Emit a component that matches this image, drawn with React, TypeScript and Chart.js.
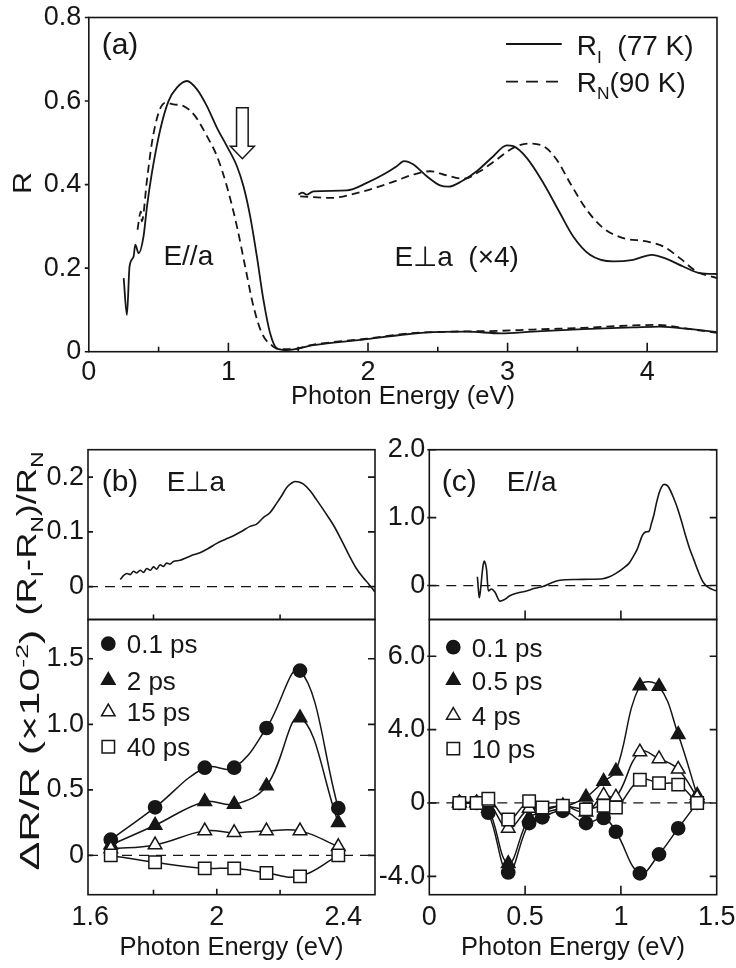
import React, { useEffect, useRef } from 'react';
import { Chart, registerables } from 'chart.js';
Chart.register(...registerables);

const W = 736;
const H = 968;
const FONT = "'Liberation Sans', Arial, Helvetica, sans-serif";
const INK = '#161616';

// ---------------- Panel (a) ----------------
const aETicks = [0, 1, 2, 3, 4];
const aELabels = ['0', '1', '2', '3', '4'];
const aRTicks = [0, 0.2, 0.4, 0.6, 0.8];
const aRLabels = ['0', '0.2', '0.4', '0.6', '0.8'];
const aMinorE = [0.5, 1, 1.5, 2, 2.5, 3, 3.5, 4];

// R_I (77 K), E//a
const aParIE = [0.25, 0.273, 0.292, 0.321, 0.333, 0.357, 0.392, 0.417, 0.452, 0.512, 0.571, 0.631, 0.703, 0.775, 0.846, 0.918, 0.989, 1.061, 1.108, 1.156, 1.204, 1.251, 1.299, 1.347, 1.42, 1.61, 1.99, 2.23, 2.47, 2.71, 2.95, 3.18, 3.54, 3.9, 4.09, 4.31, 4.5];
const aParIR = [0.176, 0.088, 0.204, 0.228, 0.256, 0.236, 0.276, 0.348, 0.428, 0.532, 0.6, 0.632, 0.648, 0.628, 0.588, 0.536, 0.492, 0.444, 0.396, 0.324, 0.228, 0.124, 0.044, 0.008, 0.004, 0.016, 0.03, 0.04, 0.047, 0.048, 0.044, 0.048, 0.054, 0.058, 0.06, 0.054, 0.047];
// R_N (90 K), E//a
const aParNE = [0.349, 0.373, 0.38, 0.417, 0.452, 0.5, 0.548, 0.607, 0.679, 0.762, 0.846, 0.918, 0.989, 1.061, 1.12, 1.18, 1.24, 1.323, 1.37, 1.45, 1.61, 1.99, 2.3, 2.6, 2.95, 3.18, 3.54, 3.9, 4.07, 4.31, 4.5];
const aParNR = [0.292, 0.336, 0.312, 0.412, 0.5, 0.572, 0.596, 0.592, 0.588, 0.564, 0.516, 0.468, 0.396, 0.3, 0.204, 0.108, 0.044, 0.012, 0.006, 0.006, 0.017, 0.031, 0.044, 0.048, 0.05, 0.053, 0.057, 0.063, 0.064, 0.054, 0.045];
// R_I (77 K), E perp a (x4)
const aPerpIE = [1.502, 1.53, 1.56, 1.609, 1.848, 1.991, 2.11, 2.206, 2.258, 2.325, 2.421, 2.516, 2.576, 2.671, 2.779, 2.898, 2.994, 3.041, 3.137, 3.256, 3.375, 3.47, 3.59, 3.757, 3.9, 4.032, 4.139, 4.258, 4.377, 4.5];
const aPerpIR = [0.376, 0.381, 0.376, 0.384, 0.386, 0.404, 0.424, 0.444, 0.456, 0.448, 0.42, 0.398, 0.395, 0.408, 0.432, 0.468, 0.494, 0.492, 0.464, 0.404, 0.332, 0.276, 0.232, 0.216, 0.22, 0.232, 0.222, 0.204, 0.188, 0.186];
// R_N (90 K), E perp a (x4)
const aPerpNE = [1.514, 1.729, 1.967, 2.158, 2.325, 2.445, 2.564, 2.683, 2.802, 2.922, 3.041, 3.148, 3.256, 3.351, 3.447, 3.566, 3.685, 3.828, 3.996, 4.115, 4.234, 4.354, 4.5];
const aPerpNR = [0.372, 0.368, 0.384, 0.404, 0.424, 0.432, 0.422, 0.414, 0.432, 0.46, 0.488, 0.498, 0.492, 0.46, 0.404, 0.34, 0.296, 0.272, 0.264, 0.252, 0.224, 0.192, 0.176];
// hollow arrow: energy, and R at top / head base / tip
const aArrowE = [1.1];
const aArrowR = [0.584, 0.492, 0.462];
const aLegend = ['(77 K)', '(90 K)'];

// ---------------- Panel (b) ----------------
const bXTicks = [1.6, 2, 2.4];
const bXLabels = ['1.6', '2', '2.4'];
const bTopYTicks = [0, 0.1, 0.2];
const bTopYLabels = ['0', '0.1', '0.2'];
const bBotYTicks = [0, 0.5, 1, 1.5];
const bBotYLabels = ['0', '0.5', '1.0', '1.5'];
const bZeroE = [1.593, 2.5];
const zeroLevel = [0, 0];

const bDiffE = [1.695, 1.705, 1.716, 1.726, 1.737, 1.747, 1.758, 1.768, 1.779, 1.79, 1.8, 1.81, 1.821, 1.831, 1.842, 1.852, 1.863, 1.884, 1.905, 1.926, 1.947, 1.974, 2.0, 2.026, 2.053, 2.079, 2.105, 2.126, 2.147, 2.168, 2.189, 2.205, 2.221, 2.234, 2.247, 2.26, 2.274, 2.295, 2.316, 2.342, 2.368, 2.394, 2.42, 2.44, 2.463, 2.48, 2.5];
const bDiffV = [0.013, 0.02, 0.024, 0.022, 0.028, 0.025, 0.03, 0.026, 0.033, 0.03, 0.036, 0.032, 0.04, 0.037, 0.043, 0.041, 0.046, 0.048, 0.053, 0.058, 0.062, 0.07, 0.079, 0.086, 0.093, 0.101, 0.11, 0.114, 0.126, 0.135, 0.152, 0.166, 0.181, 0.188, 0.192, 0.191, 0.187, 0.175, 0.158, 0.136, 0.113, 0.085, 0.055, 0.034, 0.016, 0.005, -0.01];

const bProbeE = [1.665, 1.805, 1.962, 2.055, 2.157, 2.263, 2.384];
const bDelay01 = [0.12, 0.367, 0.669, 0.669, 0.972, 1.41, 0.361];
const bDelay2 = [0.08, 0.23, 0.41, 0.39, 0.53, 1.05, 0.25];
const bDelay15 = [0.05, 0.08, 0.187, 0.174, 0.187, 0.187, 0.067];
const bDelay40 = [0, -0.053, -0.099, -0.099, -0.134, -0.16, 0];
const bLegend = ['0.1 ps', '2 ps', '15 ps', '40 ps'];

// ---------------- Panel (c) ----------------
const cXTicks = [0, 0.5, 1, 1.5];
const cXLabels = ['0', '0.5', '1', '1.5'];
const cTopYTicks = [0, 1, 2];
const cTopYLabels = ['0', '1.0', '2.0'];
const cBotYTicks = [-4, 0, 4, 8];
const cBotYLabels = ['-4.0', '0', '4.0', '6.0'];
const cZeroE = [0, 1.5];

const cDiffE = [0.251, 0.256, 0.261, 0.268, 0.274, 0.281, 0.287, 0.293, 0.299, 0.308, 0.325, 0.343, 0.369, 0.39, 0.42, 0.46, 0.507, 0.55, 0.593, 0.63, 0.663, 0.71, 0.766, 0.83, 0.905, 0.94, 0.974, 1.01, 1.043, 1.065, 1.086, 1.1, 1.112, 1.13, 1.147, 1.16, 1.173, 1.186, 1.199, 1.212, 1.225, 1.238, 1.251, 1.272, 1.294, 1.316, 1.337, 1.358, 1.38, 1.402, 1.424, 1.44, 1.458, 1.48, 1.5];
const cDiffV = [0.13, -0.05, -0.18, -0.05, 0.13, 0.3, 0.36, 0.32, 0.23, -0.08, -0.05, -0.1, -0.23, -0.21, -0.15, -0.11, -0.08, -0.04, -0.015, 0.03, 0.066, 0.085, 0.09, 0.092, 0.1, 0.13, 0.18, 0.25, 0.33, 0.43, 0.54, 0.65, 0.74, 0.79, 0.8, 0.92, 1.05, 1.22, 1.36, 1.45, 1.49, 1.48, 1.44, 1.31, 1.15, 0.95, 0.74, 0.55, 0.385, 0.22, 0.077, 0.01, -0.03, -0.06, -0.08];

const cProbeE = [0.157, 0.247, 0.308, 0.412, 0.521, 0.59, 0.697, 0.818, 0.91, 0.974, 1.099, 1.199, 1.299, 1.398];
const cDelay01 = [0, 0, -0.53, -3.79, -1.1, -0.78, -0.43, -1.1, -0.82, -1.57, -3.84, -2.8, -1.38, 0];
const cDelay05 = [0, 0, -0.3, -3.3, -0.8, -0.55, -0.25, 0.32, 1.18, 1.74, 6.39, 6.35, 3.73, 0.42];
const cDelay4 = [0, 0, 0, -1.38, -0.3, -0.4, -0.15, -0.5, 0.42, 0.32, 2.78, 2.41, 1.84, 0.3];
const cDelay10 = [0, 0, 0.23, -0.9, 0.1, -0.25, -0.15, -0.35, -0.15, -0.25, 1.27, 1.08, 1.0, 0];
const cLegend = ['0.1 ps', '0.5 ps', '4 ps', '10 ps'];

// ---------------- helpers ----------------
const pts = (xs: number[], ys: number[]) => xs.map((x, i) => ({ x, y: ys[i] }));

type Run = [string, number]; // 0 normal, 1 subscript, -1 superscript

function runsWidth(ctx: CanvasRenderingContext2D, runs: Run[], size: number) {
  let w = 0;
  for (const [t, k] of runs) {
    ctx.font = `${k === 0 ? size : size * 0.62}px ${FONT}`;
    w += ctx.measureText(t).width;
  }
  return w;
}

function drawRuns(ctx: CanvasRenderingContext2D, runs: Run[], x: number, baseY: number, size: number) {
  let cx = x;
  ctx.textAlign = 'left';
  ctx.textBaseline = 'alphabetic';
  ctx.fillStyle = INK;
  for (const [t, k] of runs) {
    const s = k === 0 ? size : size * 0.62;
    ctx.font = `${s}px ${FONT}`;
    const dy = k === 1 ? size * 0.27 : k === -1 ? -size * 0.4 : 0;
    ctx.fillText(t, cx, baseY + dy);
    cx += ctx.measureText(t).width;
  }
}

function drawRotTitle(ctx: CanvasRenderingContext2D, runs: Run[], cx: number, cy: number, size: number, length: number) {
  const w = runsWidth(ctx, runs, size);
  ctx.save();
  ctx.translate(cx, cy);
  ctx.rotate(-Math.PI / 2);
  ctx.scale(length / w, 1);
  drawRuns(ctx, runs, -w / 2, 0.716 * size / 2, size);
  ctx.restore();
}

function drawMarker(ctx: CanvasRenderingContext2D, style: string, x: number, y: number, r: number, filled: boolean) {
  ctx.beginPath();
  if (style === 'circle') {
    ctx.arc(x, y, r, 0, Math.PI * 2);
  } else if (style === 'triangle') {
    for (let i = 0; i < 3; i++) {
      const a = (i * 2 * Math.PI) / 3;
      const px = x + Math.sin(a) * r;
      const py = y - Math.cos(a) * r;
      if (i === 0) ctx.moveTo(px, py); else ctx.lineTo(px, py);
    }
    ctx.closePath();
  } else {
    const s = r * Math.SQRT1_2;
    ctx.rect(x - s, y - s, 2 * s, 2 * s);
  }
  ctx.fillStyle = filled ? INK : '#fff';
  ctx.fill();
  ctx.lineWidth = 1.5;
  ctx.strokeStyle = INK;
  ctx.stroke();
}

type TickSpec = {
  left?: number[]; lIn?: number; lOut?: number;
  right?: number[]; rIn?: number;
  bottom?: [number, number][];
};

function frameAndTicks(chart: any, t: TickSpec) {
  const { ctx, chartArea: a } = chart;
  const xs = chart.scales.x;
  const ys = chart.scales.y;
  ctx.save();
  ctx.strokeStyle = INK;
  ctx.lineWidth = 1.6;
  ctx.strokeRect(a.left, a.top, a.right - a.left, a.bottom - a.top);
  ctx.beginPath();
  for (const v of t.left || []) {
    const p = ys.getPixelForValue(v);
    ctx.moveTo(a.left - (t.lOut || 0), p);
    ctx.lineTo(a.left + (t.lIn || 0), p);
  }
  for (const v of t.right || []) {
    const p = ys.getPixelForValue(v);
    ctx.moveTo(a.right, p);
    ctx.lineTo(a.right - (t.rIn || 0), p);
  }
  for (const [v, len] of t.bottom || []) {
    const p = xs.getPixelForValue(v);
    ctx.moveTo(p, a.bottom);
    ctx.lineTo(p, a.bottom - len);
  }
  ctx.stroke();
  ctx.restore();
}

type Spec = {
  box: { l: number; t: number; r: number; b: number };
  xMin: number; xMax: number; xTicks: number[]; xLabels: string[] | null; xH?: number; xPad?: number;
  yMin: number; yMax: number; yTicks: number[]; yLabels: string[]; yPad: number;
  datasets: any[];
  deco: (chart: any) => void;
};

function build(s: Spec): any {
  const showX = !!s.xLabels;
  const xH = showX ? (s.xH as number) : 0;
  const tickFont = { family: FONT, size: 27 };
  return {
    type: 'line',
    data: { datasets: s.datasets },
    options: {
      responsive: false,
      animation: false,
      events: [],
      layout: { autoPadding: false, padding: { left: 0, top: s.box.t, right: W - s.box.r, bottom: H - s.box.b - xH } },
      plugins: { legend: { display: false }, tooltip: { enabled: false }, title: { display: false } },
      scales: {
        x: {
          type: 'linear', display: showX, min: s.xMin, max: s.xMax, bounds: 'data',
          afterBuildTicks: (sc: any) => { sc.ticks = s.xTicks.map((v) => ({ value: v })); },
          afterFit: (sc: any) => { sc.height = xH; sc.paddingLeft = 0; sc.paddingRight = 0; },
          ticks: {
            callback: (_v: any, i: number) => (s.xLabels ? s.xLabels[i] : ''),
            font: tickFont, color: INK, padding: s.xPad ?? 6, maxRotation: 0, minRotation: 0, autoSkip: false,
          },
          grid: { display: false, drawTicks: false },
          border: { display: false },
          title: { display: showX, text: 'Photon Energy (eV)', font: { family: FONT, size: 25.5 }, color: INK, padding: 0 },
        },
        y: {
          type: 'linear', min: s.yMin, max: s.yMax, bounds: 'data',
          afterBuildTicks: (sc: any) => { sc.ticks = s.yTicks.map((v) => ({ value: v })); },
          afterFit: (sc: any) => { sc.width = s.box.l; sc.paddingTop = 0; sc.paddingBottom = 0; },
          ticks: {
            callback: (_v: any, i: number) => s.yLabels[i],
            font: tickFont, color: INK, padding: s.yPad, autoSkip: false,
          },
          grid: { display: false, drawTicks: false },
          border: { display: false },
        },
      },
    },
    plugins: [{ id: 'deco', afterDraw: (chart: any) => s.deco(chart) }],
  };
}

const curve = (xs: number[], ys: number[], dashed: boolean, width = 1.8) => ({
  data: pts(xs, ys),
  borderColor: INK,
  borderWidth: width,
  borderDash: dashed ? [8, 5] : [],
  pointRadius: 0,
  cubicInterpolationMode: 'monotone',
  fill: false,
  order: 5,
});

const zeroLine = (xs: number[]) => ({
  data: pts(xs, zeroLevel),
  borderColor: INK,
  borderWidth: 1.3,
  borderDash: [10, 7],
  pointRadius: 0,
  tension: 0,
  fill: false,
  order: 10,
});

const markerSeries = (xs: number[], ys: number[], style: string, filled: boolean, r: number, order: number) => ({
  data: pts(xs, ys),
  borderColor: INK,
  borderWidth: 1.5,
  tension: 0.4,
  pointStyle: style,
  pointRadius: r,
  pointBorderWidth: 1.5,
  pointBorderColor: INK,
  pointBackgroundColor: filled ? INK : '#ffffff',
  fill: false,
  order,
});

const MARKERS: [string, boolean, number][] = [
  ['circle', true, 6.6],
  ['triangle', true, 7.8],
  ['triangle', false, 7.8],
  ['rect', false, 8.8],
];

// ---------------- configs ----------------
const buildA = () =>
  build({
    box: { l: 88.8, t: 17.5, r: 717, b: 351.7 },
    xMin: 0, xMax: 4.5, xTicks: aETicks, xLabels: aELabels, xH: 61, xPad: 5,
    yMin: 0, yMax: 0.8, yTicks: aRTicks, yLabels: aRLabels, yPad: 7.5,
    datasets: [
      curve(aParIE, aParIR, false),
      curve(aParNE, aParNR, true),
      curve(aPerpIE, aPerpIR, false),
      curve(aPerpNE, aPerpNR, true),
    ],
    deco: (chart: any) => {
      const { ctx } = chart;
      const xs = chart.scales.x;
      const ys = chart.scales.y;
      frameAndTicks(chart, {
        left: aRTicks, lOut: 4, lIn: 0,
        bottom: aMinorE.map((v) => [v, Number.isInteger(v) ? 9 : 5] as [number, number]),
      });
      ctx.save();
      // arrow
      const xp = xs.getPixelForValue(aArrowE[0]);
      const yt = ys.getPixelForValue(aArrowR[0]);
      const yb = ys.getPixelForValue(aArrowR[1]);
      const yp = ys.getPixelForValue(aArrowR[2]);
      ctx.beginPath();
      ctx.moveTo(xp - 5.8, yt);
      ctx.lineTo(xp + 5.8, yt);
      ctx.lineTo(xp + 5.8, yb);
      ctx.lineTo(xp + 12, yb);
      ctx.lineTo(xp, yp);
      ctx.lineTo(xp - 12, yb);
      ctx.lineTo(xp - 5.8, yb);
      ctx.closePath();
      ctx.fillStyle = '#fff';
      ctx.fill();
      ctx.lineWidth = 1.5;
      ctx.strokeStyle = INK;
      ctx.stroke();
      // panel texts
      const c1: Run[] = [['(a)', 0]];
      drawRuns(ctx, c1, 120 - runsWidth(ctx, c1, 30) / 2, 53.7, 30);
      const c2: Run[] = [['E//a', 0]];
      drawRuns(ctx, c2, 188.3 - runsWidth(ctx, c2, 28) / 2, 265, 28);
      const c3: Run[] = [['E\u22A5a  (\u00D74)', 0]];
      drawRuns(ctx, c3, 456.7 - runsWidth(ctx, c3, 28) / 2, 265.8, 28);
      // legend
      ctx.strokeStyle = INK;
      ctx.lineWidth = 1.8;
      ctx.beginPath();
      ctx.moveTo(506, 44);
      ctx.lineTo(561.7, 44);
      ctx.stroke();
      ctx.setLineDash([12, 8]);
      ctx.beginPath();
      ctx.moveTo(506, 81.7);
      ctx.lineTo(561.7, 81.7);
      ctx.stroke();
      ctx.setLineDash([]);
      drawRuns(ctx, [['R', 0], ['I', 1], ['  ' + aLegend[0], 0]], 576.7, 55, 28);
      drawRuns(ctx, [['R', 0], ['N', 1], [aLegend[1], 0]], 576.7, 91.7, 28);
      // y title
      drawRotTitle(ctx, [['R', 0]], 22, 183, 26, 22);
      ctx.restore();
    },
  });

const buildBTop = () =>
  build({
    box: { l: 88, t: 449.7, r: 375, b: 619.5 },
    xMin: 1.593, xMax: 2.5, xTicks: bXTicks, xLabels: null,
    yMin: -0.06, yMax: 0.25, yTicks: bTopYTicks, yLabels: bTopYLabels, yPad: 4,
    datasets: [curve(bDiffE, bDiffV, false, 1.6), zeroLine(bZeroE)],
    deco: (chart: any) => {
      const { ctx } = chart;
      frameAndTicks(chart, {
        left: bTopYTicks, lIn: 5, lOut: 0, right: bTopYTicks, rIn: 7,
        bottom: [[1.8, 5], [2.2, 5]],
      });
      ctx.save();
      drawRuns(ctx, [['(b)', 0]], 101.7, 490.6, 30);
      drawRuns(ctx, [['E\u22A5a', 0]], 166.7, 490.6, 28);
      drawRotTitle(ctx, [['(R', 0], ['I', 1], ['-R', 0], ['N', 1], [')/R', 0], ['N', 1]], 26, 533.6, 27, 164);
      ctx.restore();
    },
  });

const buildBBot = () =>
  build({
    box: { l: 88, t: 619.5, r: 375, b: 894.7 },
    xMin: 1.593, xMax: 2.5, xTicks: bXTicks, xLabels: bXLabels, xH: 68.5, xPad: 7,
    yMin: -0.3, yMax: 1.8, yTicks: bBotYTicks, yLabels: bBotYLabels, yPad: 4,
    datasets: [
      markerSeries(bProbeE, bDelay01, ...MARKERS[0], 3),
      markerSeries(bProbeE, bDelay2, ...MARKERS[1], 2),
      markerSeries(bProbeE, bDelay15, ...MARKERS[2], 1),
      markerSeries(bProbeE, bDelay40, ...MARKERS[3], 0),
      zeroLine(bZeroE),
    ],
    deco: (chart: any) => {
      const { ctx } = chart;
      frameAndTicks(chart, {
        left: bBotYTicks, lIn: 5, lOut: 0, right: bBotYTicks, rIn: 7,
        bottom: [[1.8, 5], [2.0, 6], [2.2, 5]],
      });
      ctx.save();
      const rows = [643.7, 680.4, 711.9, 746.8];
      rows.forEach((y, i) => {
        const [st, f, r] = MARKERS[i];
        drawMarker(ctx, st, 108.3, y, r, f);
        drawRuns(ctx, [[bLegend[i], 0]], 126.7, y + 9.3, 26);
      });
      drawRotTitle(ctx, [['\u0394R/R (\u00D710', 0], ['-2', -1], [')', 0]], 29, 750, 27, 241);
      ctx.restore();
    },
  });

const buildCTop = () =>
  build({
    box: { l: 429.3, t: 449.7, r: 716.7, b: 619.5 },
    xMin: 0, xMax: 1.5, xTicks: cXTicks, xLabels: null,
    yMin: -0.5, yMax: 2, yTicks: cTopYTicks, yLabels: cTopYLabels, yPad: 4,
    datasets: [curve(cDiffE, cDiffV, false, 1.6), zeroLine(cZeroE)],
    deco: (chart: any) => {
      const { ctx } = chart;
      frameAndTicks(chart, {
        left: cTopYTicks, lIn: 7, lOut: 2, right: cTopYTicks, rIn: 7,
        bottom: [[0.5, 9], [1, 9]],
      });
      ctx.save();
      drawRuns(ctx, [['(c)', 0]], 441.7, 490.6, 30);
      drawRuns(ctx, [['E//a', 0]], 506.7, 490.6, 28);
      ctx.restore();
    },
  });

const buildCBot = () =>
  build({
    box: { l: 429.3, t: 619.5, r: 716.7, b: 894.7 },
    xMin: 0, xMax: 1.5, xTicks: cXTicks, xLabels: cXLabels, xH: 68.5, xPad: 7,
    yMin: -5, yMax: 10, yTicks: cBotYTicks, yLabels: cBotYLabels, yPad: 4,
    datasets: [
      markerSeries(cProbeE, cDelay01, ...MARKERS[0], 3),
      markerSeries(cProbeE, cDelay05, ...MARKERS[1], 2),
      markerSeries(cProbeE, cDelay4, ...MARKERS[2], 1),
      markerSeries(cProbeE, cDelay10, ...MARKERS[3], 0),
      zeroLine(cZeroE),
    ],
    deco: (chart: any) => {
      const { ctx } = chart;
      frameAndTicks(chart, {
        left: cBotYTicks, lIn: 7, lOut: 2, right: cBotYTicks, rIn: 7,
        bottom: [[0.5, 9], [1, 9]],
      });
      ctx.save();
      const rows = [647.2, 680.4, 715.3, 748.6];
      rows.forEach((y, i) => {
        const [st, f, r] = MARKERS[i];
        drawMarker(ctx, st, 453.3, y, r, f);
        drawRuns(ctx, [[cLegend[i], 0]], 471.7, y + 9.3, 26);
      });
      ctx.restore();
    },
  });

function Panel({ make }: { make: () => any }) {
  const ref = useRef<HTMLCanvasElement>(null);
  useEffect(() => {
    const chart = new Chart(ref.current as HTMLCanvasElement, make());
    return () => chart.destroy();
  }, [make]);
  return (
    <canvas
      ref={ref}
      width={W}
      height={H}
      style={{ position: 'absolute', left: 0, top: 0, width: W, height: H }}
    />
  );
}

export default function App() {
  return (
    <div style={{ position: 'fixed', left: 0, top: 0, width: W, height: H, background: '#fff', overflow: 'hidden' }}>
      <Panel make={buildA} />
      <Panel make={buildBTop} />
      <Panel make={buildBBot} />
      <Panel make={buildCTop} />
      <Panel make={buildCBot} />
    </div>
  );
}
